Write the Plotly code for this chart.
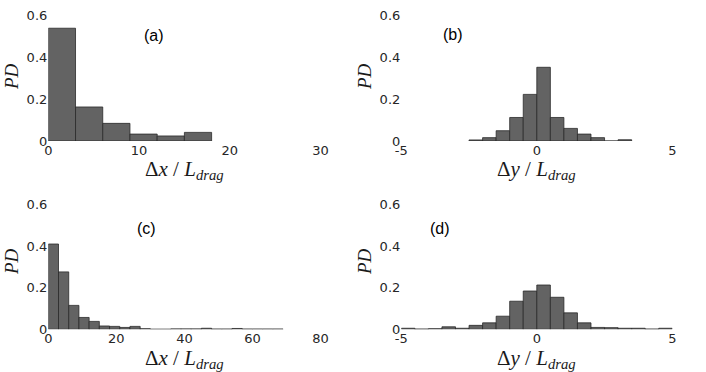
import plotly.graph_objects as go

W, H = 706, 372

# Panel (a): Δx/L_drag, bin width 3
a_left = [0, 3, 6, 9, 12, 15]
a_pd = [0.537, 0.162, 0.084, 0.033, 0.024, 0.041]
a_width = 3

# Panel (b): Δy/L_drag, bin width 0.5
b_left = [-2.5, -2.0, -1.5, -1.0, -0.5, 0.0, 0.5, 1.0, 1.5, 2.0, 2.5, 3.0]
b_pd = [0.005, 0.016, 0.049, 0.112, 0.222, 0.351, 0.112, 0.060, 0.033, 0.016, 0.0, 0.006]
b_width = 0.5

# Panel (c): Δx/L_drag, bin width 3
c_left = [0, 3, 6, 9, 12, 15, 18, 21, 24, 27, 30, 33, 36, 39, 42, 45, 48, 51, 54, 57, 60, 63, 66]
c_pd = [0.410, 0.276, 0.115, 0.057, 0.038, 0.016, 0.014, 0.009, 0.014, 0.003, 0.0, 0.0,
        0.002, 0.002, 0.002, 0.005, 0.001, 0.001, 0.004, 0.001, 0.001, 0.001, 0.001]
c_width = 3

# Panel (d): Δy/L_drag, bin width 0.5
d_left = [-5.0, -4.5, -4.0, -3.5, -3.0, -2.5, -2.0, -1.5, -1.0, -0.5,
          0.0, 0.5, 1.0, 1.5, 2.0, 2.5, 3.0, 3.5, 4.0, 4.5]
d_pd = [0.005, 0.001, 0.003, 0.012, 0.005, 0.019, 0.031, 0.063, 0.135, 0.184,
        0.213, 0.154, 0.079, 0.031, 0.009, 0.008, 0.005, 0.005, 0.001, 0.005]
d_width = 0.5

y_ticks = [0, 0.2, 0.4, 0.6]
y_ticktext = ["0", "0.2", "0.4", "0.6"]
a_xticks = [0, 10, 20, 30]
b_xticks = [-5, 0, 5]
c_xticks = [0, 20, 40, 60, 80]
d_xticks = [-5, 0, 5]
panel_labels = ["(a)", "(b)", "(c)", "(d)"]

BAR = "#636363"
EDGE = "#2a2a2a"
TICK = "#262626"

fig = go.Figure()

panels = [
    (a_left, a_pd, a_width, "x", "y"),
    (b_left, b_pd, b_width, "x2", "y2"),
    (c_left, c_pd, c_width, "x3", "y3"),
    (d_left, d_pd, d_width, "x4", "y4"),
]
for left, pd, w, xa, ya in panels:
    fig.add_trace(go.Bar(
        x=[l + w / 2 for l in left], y=pd, width=[w] * len(left),
        marker=dict(color=BAR, line=dict(color=EDGE, width=0.8)),
        xaxis=xa, yaxis=ya, showlegend=False, hoverinfo="skip",
    ))

def px_x(p):
    return p / W

def px_y(p):
    return 1 - p / H

xdom_left = [px_x(48.3), px_x(320.5)]
xdom_right = [px_x(401.3), px_x(672.3)]
ydom_top = [px_y(141.0), px_y(15.0)]
ydom_bot = [px_y(329.3), px_y(204.5)]

tickfont = dict(family="DejaVu Sans", size=13, color=TICK)

def xax(dom, rng, ticks, anchor):
    return dict(domain=dom, range=rng, tickvals=ticks, ticktext=[str(t) for t in ticks],
                showgrid=False, zeroline=False, showline=False, ticks="",
                tickfont=tickfont, anchor=anchor, fixedrange=True, automargin=False)

def yax(dom, anchor):
    return dict(domain=dom, range=[0, 0.6], tickvals=y_ticks, ticktext=y_ticktext,
                showgrid=False, zeroline=False, showline=False, ticks="",
                tickfont=tickfont, anchor=anchor, fixedrange=True, automargin=False)

fig.update_layout(
    width=W, height=H,
    margin=dict(l=0, r=0, t=0, b=0),
    paper_bgcolor="white", plot_bgcolor="white",
    bargap=0,
    hovermode=False,
    xaxis=xax(xdom_left, [0, 30], a_xticks, "y"),
    yaxis=yax(ydom_top, "x"),
    xaxis2=xax(xdom_right, [-5, 5], b_xticks, "y2"),
    yaxis2=yax(ydom_top, "x2"),
    xaxis3=xax(xdom_left, [0, 80], c_xticks, "y3"),
    yaxis3=yax(ydom_bot, "x3"),
    xaxis4=xax(xdom_right, [-5, 5], d_xticks, "y4"),
    yaxis4=yax(ydom_bot, "x4"),
)

pd_font = dict(family="Liberation Serif", size=19, color="#1a1a1a")
title_font = dict(family="Liberation Serif", size=21, color="#1a1a1a")
label_font = dict(family="Liberation Sans", size=16, color="black")

ann = []
# panel labels
for (x, y), t in zip([(154, 35.5), (453, 34.5), (146.5, 228.5), (440, 228.5)], panel_labels):
    ann.append(dict(x=px_x(x), y=px_y(y), xref="paper", yref="paper", text=t,
                    showarrow=False, font=label_font, xanchor="center", yanchor="middle"))
# PD labels
for x, y in [(11, 77), (364, 77), (11, 262), (364, 262)]:
    ann.append(dict(x=px_x(x), y=px_y(y), xref="paper", yref="paper", text="<i>PD</i>",
                    showarrow=False, font=pd_font, textangle=-90,
                    xanchor="center", yanchor="middle"))
# x titles
xtitles = ["Δ<i>x</i> / <i>L</i><sub><i>drag</i></sub>",
           "Δ<i>y</i> / <i>L</i><sub><i>drag</i></sub>",
           "Δ<i>x</i> / <i>L</i><sub><i>drag</i></sub>",
           "Δ<i>y</i> / <i>L</i><sub><i>drag</i></sub>"]
for (x, y), t in zip([(184, 170), (536, 170), (184, 359), (536, 359)], xtitles):
    ann.append(dict(x=px_x(x), y=px_y(y), xref="paper", yref="paper", text=t,
                    showarrow=False, font=title_font, xanchor="center", yanchor="middle"))

fig.update_layout(annotations=ann)

fig.write_html("out.html", config={"displayModeBar": False, "staticPlot": True},
               post_script="document.body.style.margin='0';")
